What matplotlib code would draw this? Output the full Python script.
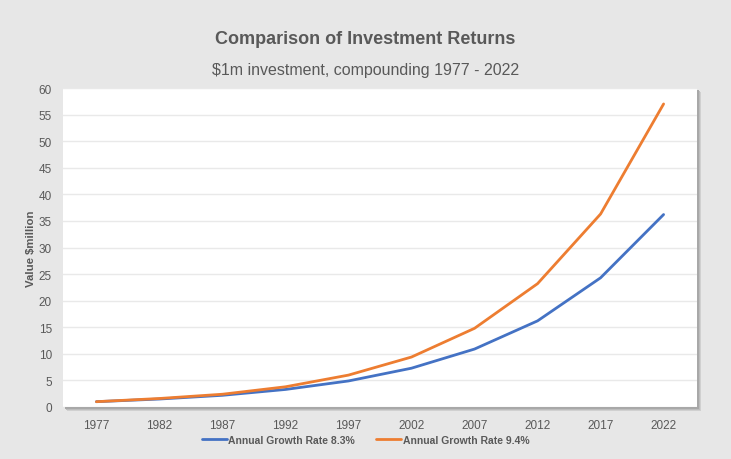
import matplotlib
matplotlib.use("Agg")
import matplotlib.pyplot as plt
from matplotlib.patches import Rectangle

years = ["1977", "1982", "1987", "1992", "1997", "2002", "2007", "2012", "2017", "2022"]
rate_83 = [1.0, 1.5, 2.2, 3.3, 4.9, 7.3, 10.9, 16.2, 24.3, 36.2]
rate_94 = [1.0, 1.6, 2.4, 3.8, 6.0, 9.4, 14.8, 23.2, 36.3, 57.0]
yticks = list(range(0, 65, 5))

plt.rcParams['font.family'] = ["Liberation Sans", "DejaVu Sans"]

txt = "#595959"
fig = plt.figure(figsize=(7.31, 4.60), dpi=100, facecolor="#e7e7e7")
l, b, w, h = 63/731, 1-408/460, (697-63)/731, (408-89)/460
# soft shadow behind plot area
for off, col in [(4, "#d0d0d0"), (3, "#bdbdbd"), (2, "#a8a8a8")]:
    fig.patches.append(Rectangle((l + off/731, b - off/460), w, h, transform=fig.transFigure,
                                 facecolor=col, edgecolor="none", zorder=-5))
ax = fig.add_axes([l, b, w, h], zorder=2)
ax.set_facecolor("white")
x = list(range(len(years)))
ax.plot(x, rate_83, color="#4472C4", lw=2.0, label="Annual Growth Rate 8.3%", solid_capstyle="round")
ax.plot(x, rate_94, color="#ED7D31", lw=2.0, label="Annual Growth Rate 9.4%", solid_capstyle="round")
ax.set_xlim(-0.53, 9.53)
ax.set_ylim(0, 60)
ax.set_yticks(yticks)
ax.set_xticks(x)
ax.set_xticklabels(years)
ax.grid(axis="y", color="#e9e9e9", lw=1)
ax.set_axisbelow(True)
for s in ax.spines.values():
    s.set_visible(False)
ax.tick_params(length=0, labelsize=8.5, colors=txt)
ax.tick_params(axis="x", pad=9)
ax.tick_params(axis="y", pad=8)
ax.set_ylabel("Value $million", fontsize=8.2, fontweight="bold", color=txt, labelpad=2)

fig.text(0.5, 1-40/460, "Comparison of Investment Returns", ha="center", va="center",
         fontsize=13, fontweight="bold", color=txt)
fig.text(0.5, 1-70/460, "$1m investment, compounding 1977 - 2022", ha="center", va="center",
         fontsize=11.5, color=txt)
leg = fig.legend(loc="center", bbox_to_anchor=(0.5, 1-441/460), ncol=2, frameon=False,
                 fontsize=7.5, handlelength=2.4, handletextpad=0.15, columnspacing=2.0)
for t in leg.get_texts():
    t.set_color(txt)
    t.set_fontweight("bold")
fig.savefig("out.png", dpi=100, facecolor=fig.get_facecolor())
